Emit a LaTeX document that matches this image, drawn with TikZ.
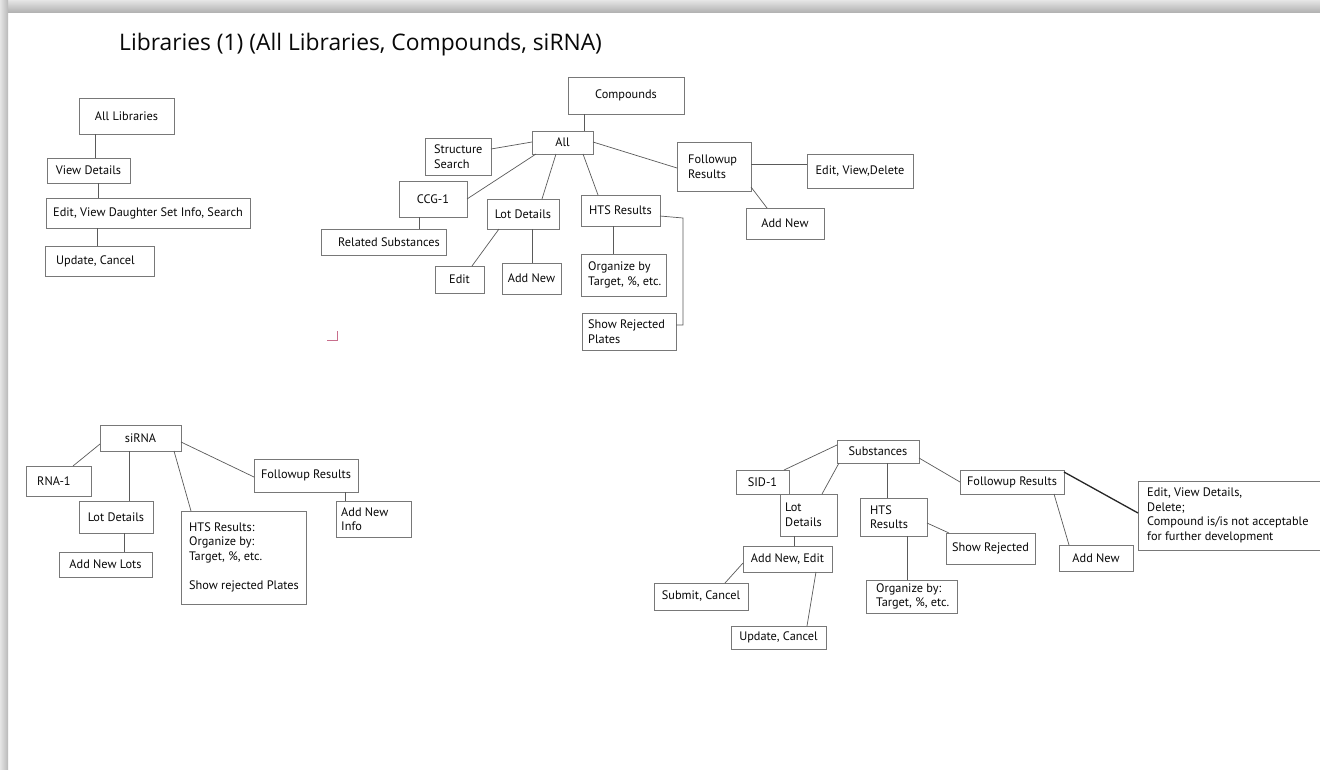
\documentclass[tikz,border=0pt]{standalone}
\usepackage{fontspec}
\setmainfont{PT Sans}
\newfontfamily\titlefont{Open Sans}
\usetikzlibrary{shadows}
\definecolor{boxline}{RGB}{120,120,120}
\definecolor{conn}{RGB}{90,90,90}
\definecolor{txt}{RGB}{8,8,8}
\definecolor{markc}{RGB}{200,110,140}
\tikzset{
  box/.style={draw=boxline, line width=0.8pt, fill=white, inner sep=0pt, outer sep=0pt,
    anchor=north west, drop shadow={shadow xshift=1pt, shadow yshift=-1.2pt, fill=gray!55, opacity=0.9}},
  lbl/.style={font=\fontsize{12.3}{14.6}\selectfont, text=txt, inner sep=0pt, align=left},
  link/.style={draw=conn, line width=0.7pt},
  heavy/.style={draw=black!85, line width=1.3pt},
}
\newcommand\bx[5]{\node[box, minimum width={(#4-#2)*1pt}, minimum height={(#5-#3)*1pt}] (#1) at (#2,#3) {};}
\newcommand\ctext[2]{\node[lbl, align=center] (#1t) at (#1.center) {#2};}
\newcommand\ltext[3]{\node[lbl, anchor=west] (#1t) at ([xshift=#2pt]#1.west) {#3};}
\newcommand\cn[5][link]{\draw[#1] ([shift={(#3)}]#2.north west) -- ([shift={(#5)}]#4.north west);}
\begin{document}
\begin{tikzpicture}[x=1pt,y=-1pt]
\useasboundingbox (0,0) rectangle (1320,769);
\fill[white] (0,0) rectangle (1320,769);
\shade[top color=gray!20, bottom color=gray!60] (0,0) rectangle (1320,12);
\shade[left color=gray!20, right color=gray!55] (0,0) rectangle (8,769);

\node[font=\titlefont\fontsize{22.8}{27}\selectfont, anchor=base west, inner sep=0pt, text=txt] (title) at (119,50) {Libraries (1) (All Libraries, Compounds, siRNA)};

% ---------- All Libraries ----------
\bx{allLib}{79}{98}{174}{134}
\bx{viewDet}{47}{158}{130}{183}
\bx{editVD}{46}{198}{250}{228}
\bx{updC}{45}{246}{154}{276}
\ctext{allLib}{All Libraries}
\ctext{viewDet}{View Details}
\ctext{editVD}{Edit, View Daughter Set Info, Search}
\ltext{updC}{11}{Update, Cancel}
\cn{allLib}{16,36}{viewDet}{48,0}
\cn{viewDet}{51,25}{editVD}{52,0}
\cn{editVD}{51,30}{updC}{52,0}

% ---------- Compounds ----------
\bx{cmp}{568}{77}{684}{114}
\bx{all}{532}{131}{593}{154}
\bx{ss}{425}{138}{491}{175}
\bx{ccg}{399}{181}{467}{217}
\bx{rel}{321}{229}{446}{255}
\bx{lotC}{487}{199}{559}{229}
\bx{editC}{435}{266}{484}{293}
\bx{addC}{502}{263}{561}{294}
\bx{hts}{581}{195}{660}{226}
\bx{org}{581}{254}{666}{296}
\bx{rej}{582}{313}{676}{350}
\bx{fu}{677}{142}{751}{191}
\bx{evd}{807}{154}{913}{188}
\bx{addF}{746}{208}{824}{239}
\ctext{cmp}{Compounds}
\ctext{all}{All}
\ltext{ss}{9}{Structure\\Search}
\ctext{ccg}{CCG-1}
\ltext{rel}{17}{Related Substances}
\ctext{lotC}{Lot Details}
\ctext{editC}{Edit}
\ctext{addC}{Add New}
\ctext{hts}{HTS Results}
\ltext{org}{7}{Organize by\\Target, \%, etc.}
\ltext{rej}{6}{Show Rejected\\Plates}
\ltext{fu}{11}{Followup\\Results}
\ctext{evd}{Edit, View,Delete}
\ctext{addF}{Add New}
\cn{cmp}{16,37}{all}{52,0}
\cn{all}{0,11}{ss}{66,11}
\cn{all}{4,23}{ccg}{68,18}
\cn{all}{24,23}{lotC}{55,0}
\cn{all}{51,23}{hts}{17,0}
\cn{all}{61,11}{fu}{0,26}
\cn{ccg}{20,36}{rel}{98,0}
\cn{lotC}{12,30}{editC}{37,0}
\cn{lotC}{45,30}{addC}{30,0}
\cn{hts}{32,31}{org}{32,0}
\draw[link] ([shift={(79,21)}]hts.north west) -- ++(23,2) |- ([shift={(94,12)}]rej.north west);
\cn{fu}{74,22}{evd}{0,10}
\cn{fu}{74,45}{addF}{21,0}
\draw[markc, line width=1pt] (327,340) -- (337,340) -- (337,331);

% ---------- siRNA ----------
\bx{sir}{100}{425}{181}{451}
\bx{rna}{26}{466}{91}{496}
\bx{lotS}{79}{501}{153}{533}
\bx{addL}{59}{552}{152}{577}
\bx{htsS}{181}{511}{306}{604}
\bx{fuS}{254}{459}{358}{492}
\bx{addI}{336}{501}{411}{537}
\ctext{sir}{siRNA}
\ltext{rna}{11}{RNA-1}
\ctext{lotS}{Lot Details}
\ctext{addL}{Add New Lots}
\ltext{htsS}{8}{HTS Results:\\Organize by:\\Target, \%, etc.\\[14.6pt]Show rejected Plates}
\ctext{fuS}{Followup Results}
\ltext{addI}{5}{Add New\\Info}
\cn{sir}{0,19}{rna}{47,0}
\cn{sir}{29,26}{lotS}{50,0}
\cn{sir}{74,26}{htsS}{10,0}
\cn{sir}{81,17}{fuS}{0,18}
\cn{fuS}{91,33}{addI}{9,0}
\cn{lotS}{45,32}{addL}{65,0}

% ---------- Substances ----------
\bx{sub}{837}{440}{919}{463}
\bx{sid}{736}{470}{789}{494}
\bx{lotB}{780}{494}{837}{536}
\bx{htsB}{860}{498}{927}{536}
\bx{fuB}{960}{470}{1064}{494}
\bx{evB}{1138}{481}{1326}{550}
\bx{rejB}{946}{533}{1035}{564}
\bx{addB}{1059}{545}{1133}{571}
\bx{aneB}{743}{546}{832}{572}
\bx{subC}{654}{583}{748}{610}
\bx{updB}{731}{626}{826}{649}
\bx{orgB}{866}{580}{957}{613}
\ctext{sub}{Substances}
\ctext{sid}{SID-1}
\ltext{lotB}{5}{Lot\\Details}
\ltext{htsB}{10}{HTS\\Results}
\ctext{fuB}{Followup Results}
\ltext{evB}{9}{Edit, View Details,\\Delete;\\Compound is/is not acceptable\\for further development}
\ctext{rejB}{Show Rejected}
\ctext{addB}{Add New}
\ctext{aneB}{Add New, Edit}
\ctext{subC}{Submit, Cancel}
\ctext{updB}{Update, Cancel}
\ltext{orgB}{10}{Organize by:\\Target, \%, etc.}
\cn{sub}{0,5}{sid}{48,0}
\cn{sub}{2,23}{lotB}{42,0}
\cn{sub}{50,23}{htsB}{27,0}
\cn{sub}{82,18}{fuB}{0,12}
\cn[heavy]{fuB}{104,2}{evB}{0,32}
\cn{fuB}{94,24}{addB}{10,0}
\cn{lotB}{14,42}{aneB}{51,0}
\cn{aneB}{0,17}{subC}{71,0}
\cn{aneB}{73,26}{updB}{76,0}
\cn{htsB}{67,25}{rejB}{3,0}
\cn{htsB}{47,38}{orgB}{41,0}
\end{tikzpicture}
\end{document}
